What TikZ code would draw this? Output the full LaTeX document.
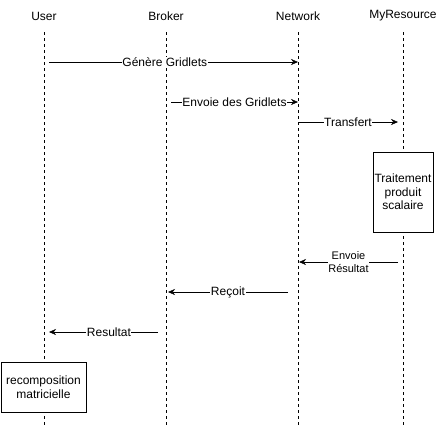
\documentclass[tikz,border=0pt]{standalone}
\usepackage{fontspec}
\setmainfont{Liberation Sans}
\usetikzlibrary{arrows.meta}

\begin{document}
\begin{tikzpicture}[x=1pt,y=-1pt,
font=\fontsize{12}{13.5}\selectfont,
actor/.style={%
anchor=center,
},
life/.style={%
draw,
dash pattern=on 3pt off 3pt,
},
msg/.style={%
draw,
-{Stealth[length=7pt,width=6pt]},
},
lbl/.style={%
fill=white,
inner sep=0.5pt,
},
act/.style={%
draw,
fill=white,
align=center,
inner sep=1pt,
},
]
\useasboundingbox (0,0) rectangle (448,426);
%% actors
\node[actor]at(44,16)(user){User};
\node[actor]at(166,16)(broker){Broker};
\node[actor]at(298,16)(network){Network};
\node[actor]at(403,16)(res){MyResource};
%% lifelines
\coordinate (userEnd) at (44,426);
\coordinate (brokerEnd) at (166,426);
\coordinate (networkEnd) at (298,426);
\coordinate (resEnd) at (403,426);
\draw[life] (user.south |- 0,32) -- (userEnd);
\draw[life] (broker.south |- 0,32) -- (brokerEnd);
\draw[life] (network.south |- 0,32) -- (networkEnd);
\draw[life] (res.south |- 0,32) -- (resEnd);
%% activity boxes
\node[act,minimum width=60,minimum height=80]at(403,192)(calc){Traitement\\produit\\scalaire};
\node[act,minimum width=85,minimum height=50]at(43.5,387)(recomp){recomposition\\matricielle};
%% messages
\coordinate (m1a) at (49,62);   \coordinate (m1b) at (298,62);
\coordinate (m2a) at (171,102); \coordinate (m2b) at (298,102);
\coordinate (m3a) at (298,122); \coordinate (m3b) at (398,122);
\coordinate (m4a) at (398,262); \coordinate (m4b) at (299,262);
\coordinate (m5a) at (288,292); \coordinate (m5b) at (168,292);
\coordinate (m6a) at (158,332); \coordinate (m6b) at (49,332);
\draw[msg] (m1a) -- node[lbl,pos=.465]{Génère Gridlets} (m1b);
\draw[msg] (m2a) -- node[lbl]{Envoie des Gridlets} (m2b);
\draw[msg] (m3a) -- node[lbl]{Transfert} (m3b);
\draw[msg] (m4a) -- node[lbl,align=center,font=\fontsize{11}{12.5}\selectfont]{Envoie\\Résultat} (m4b);
\draw[msg] (m5a) -- node[lbl]{Reçoit} (m5b);
\draw[msg] (m6a) -- node[lbl,pos=.45]{Resultat} (m6b);
\end{tikzpicture}
\end{document}
